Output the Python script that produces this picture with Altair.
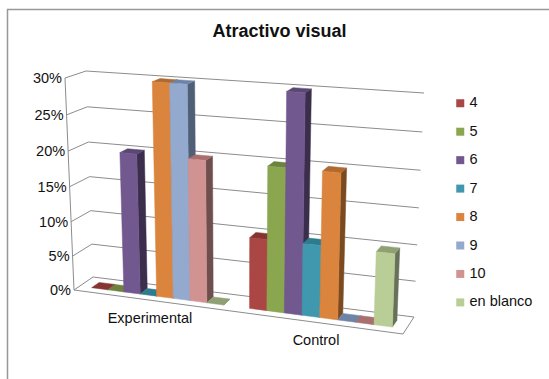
import altair as alt
import pandas as pd

W, H = 549, 379

# Chart values
categories = ["Experimental", "Control"]
series = ["4", "5", "6", "7", "8", "9", "10", "en blanco"]
experimental = [0, 0, 20, 0, 30, 30, 20, 0]
control = [10, 20, 30, 10, 20, 0, 0, 10]
ticks = [0, 5, 10, 15, 20, 25, 30]

# Face colours per series: front, side, top
front_colors = ["#AA4644", "#8AA64F", "#71588F", "#4098AF", "#DB843D", "#93A9CE", "#D19392", "#B9CD96"]
side_colors = ["#642826", "#52622E", "#3B2E4C", "#245A68", "#7A4A20", "#4F5F76", "#6E4F4E", "#66705A"]
top_colors = ["#853432", "#6C823E", "#5B4773", "#2F7B8E", "#B06A30", "#6F83A6", "#A86F6E", "#8FA072"]

# Projected corners of the 3D box: (front/back, bottom/top, left/right)
FBL, FTL, BBL, BTL = (74, 290), (65, 78), (93, 277), (86, 71)
FBR, FTR, BBR, BTR = (403, 334), (411, 104), (414, 317), (424, 93)
K = 0.925          # horizontal foreshortening
M = 0.95           # vertical foreshortening
GAP = 0.0789       # gap between category groups, in axis units
DEPTH = (0.3, 0.7) # front and back of each bar inside the floor depth
MAX_V = 30


def project(t, v, w):
    """Map axis position t, value v and depth w to picture coordinates."""
    s = K * t / (1 + (K - 1) * t)
    f = v / MAX_V
    h = M * f / (1 + (M - 1) * f)
    out = []
    for i in range(2):
        fb = FBL[i] + (FBR[i] - FBL[i]) * s
        ft = FTL[i] + (FTR[i] - FTL[i]) * s
        bb = BBL[i] + (BBR[i] - BBL[i]) * s
        bt = BTL[i] + (BTR[i] - BTL[i]) * s
        front = fb + (ft - fb) * h
        back = bb + (bt - bb) * h
        out.append(front + (back - front) * w)
    return out


# Build polygon vertices for every bar face
bar_width = (0.5 - GAP) / len(series)
faces = []
face_id = 0
for c, values in enumerate([experimental, control]):
    for i, v in enumerate(values):
        t0 = c * 0.5 + GAP / 2 + i * bar_width
        t1 = t0 + bar_width
        w0, w1 = DEPTH
        shapes = [
            ("side", side_colors[i], [(t1, 0, w0), (t1, 0, w1), (t1, v, w1), (t1, v, w0)]),
            ("top", top_colors[i], [(t0, v, w0), (t1, v, w0), (t1, v, w1), (t0, v, w1)]),
        ]
        if v > 0:
            shapes.append(("front", front_colors[i], [(t0, 0, w0), (t1, 0, w0), (t1, v, w0), (t0, v, w0)]))
        for kind, color, corners in shapes:
            face_id += 1
            for n, (t, val, w) in enumerate(corners):
                x, y = project(t, val, w)
                faces.append({"face": face_id, "n": n, "x": x, "y": y, "kind": kind,
                              "color": color, "serie": series[i]})
faces = pd.DataFrame(faces)

# Gridlines along the side wall and the back wall
grid = []
for g, v in enumerate(ticks):
    for n, p in enumerate([project(0, v, 0), project(0, v, 1), project(1, v, 1)]):
        grid.append({"line": f"g{g}", "n": n, "x": p[0], "y": p[1]})
for n, p in enumerate([project(0, 0, 0), project(0, 30, 0)]):
    grid.append({"line": "axis", "n": n, "x": p[0], "y": p[1]})
for n, p in enumerate([project(0, 0, 0), project(1, 0, 0), project(1, 0, 1)]):
    grid.append({"line": "floor", "n": n, "x": p[0], "y": p[1]})
grid = pd.DataFrame(grid)

# Text placed next to the skewed axes
tick_labels = pd.DataFrame(
    [{"x": project(0, v, 0)[0] - 3, "y": project(0, v, 0)[1] + 1, "label": f"{v}%"} for v in ticks]
)
cat_labels = pd.DataFrame({"x": [150, 316], "y": [319, 341], "label": categories})
title = pd.DataFrame({"x": [279.5], "y": [31.5], "label": ["Atractivo visual"]})
frame = pd.DataFrame({"x": [7.5], "x2": [W + 5], "y": [9.5], "y2": [H + 5]})

X = alt.X("x:Q", scale=alt.Scale(domain=[0, W], nice=False, zero=False), axis=None)
Y = alt.Y("y:Q", scale=alt.Scale(domain=[0, H], reverse=True, nice=False, zero=False), axis=None)

border = alt.Chart(frame).mark_rect(fill="white", stroke="#989898", strokeWidth=1.5).encode(
    x=X, x2="x2:Q", y=Y, y2="y2:Q"
)
grid_layer = alt.Chart(grid).mark_line(color="#8C8C8C", strokeWidth=1).encode(
    x=X, y=Y, order="n:Q", detail="line:N"
)

bars = (
    alt.Chart(faces)
    .mark_line(strokeWidth=0.5, interpolate="linear-closed")
    .encode(x=X, y=Y, order="n:Q", detail="face:N",
            stroke=alt.Stroke("color:N", scale=None),
            fill=alt.Fill("color:N", scale=None))
)

legend_points = (
    alt.Chart(pd.DataFrame({"serie": series}))
    .mark_square(size=0, opacity=1)
    .encode(
        color=alt.Color(
            "serie:N",
            scale=alt.Scale(domain=series, range=front_colors),
            legend=alt.Legend(
                title=None, orient="none", legendX=453, legendY=96, symbolType="square",
                symbolSize=64, symbolStrokeWidth=0, labelFontSize=14.5, labelFont="Liberation Sans",
                labelColor="#111111", rowPadding=13.45, padding=0, labelOffset=2, symbolOpacity=1,
                offset=0,
            ),
        )
    )
)


def text_layer(df, align, size, weight="normal"):
    return alt.Chart(df).mark_text(
        align=align, baseline="middle", font="Liberation Sans", fontSize=size,
        fontWeight=weight, color="#111111"
    ).encode(x=X, y=Y, text="label:N")


chart = (
    alt.layer(
        border, grid_layer, bars, legend_points,
        text_layer(tick_labels, "right", 14.5),
        text_layer(cat_labels, "center", 14.5),
        text_layer(title, "center", 18, "bold"),
    )
    .resolve_scale(color="independent")
    .properties(width=W, height=H, padding=0, autosize=alt.AutoSizeParams(type="none"), background="white")
    .configure_view(stroke=None)
)

chart.save("out.html", embed_options={"renderer": "svg", "actions": False})
